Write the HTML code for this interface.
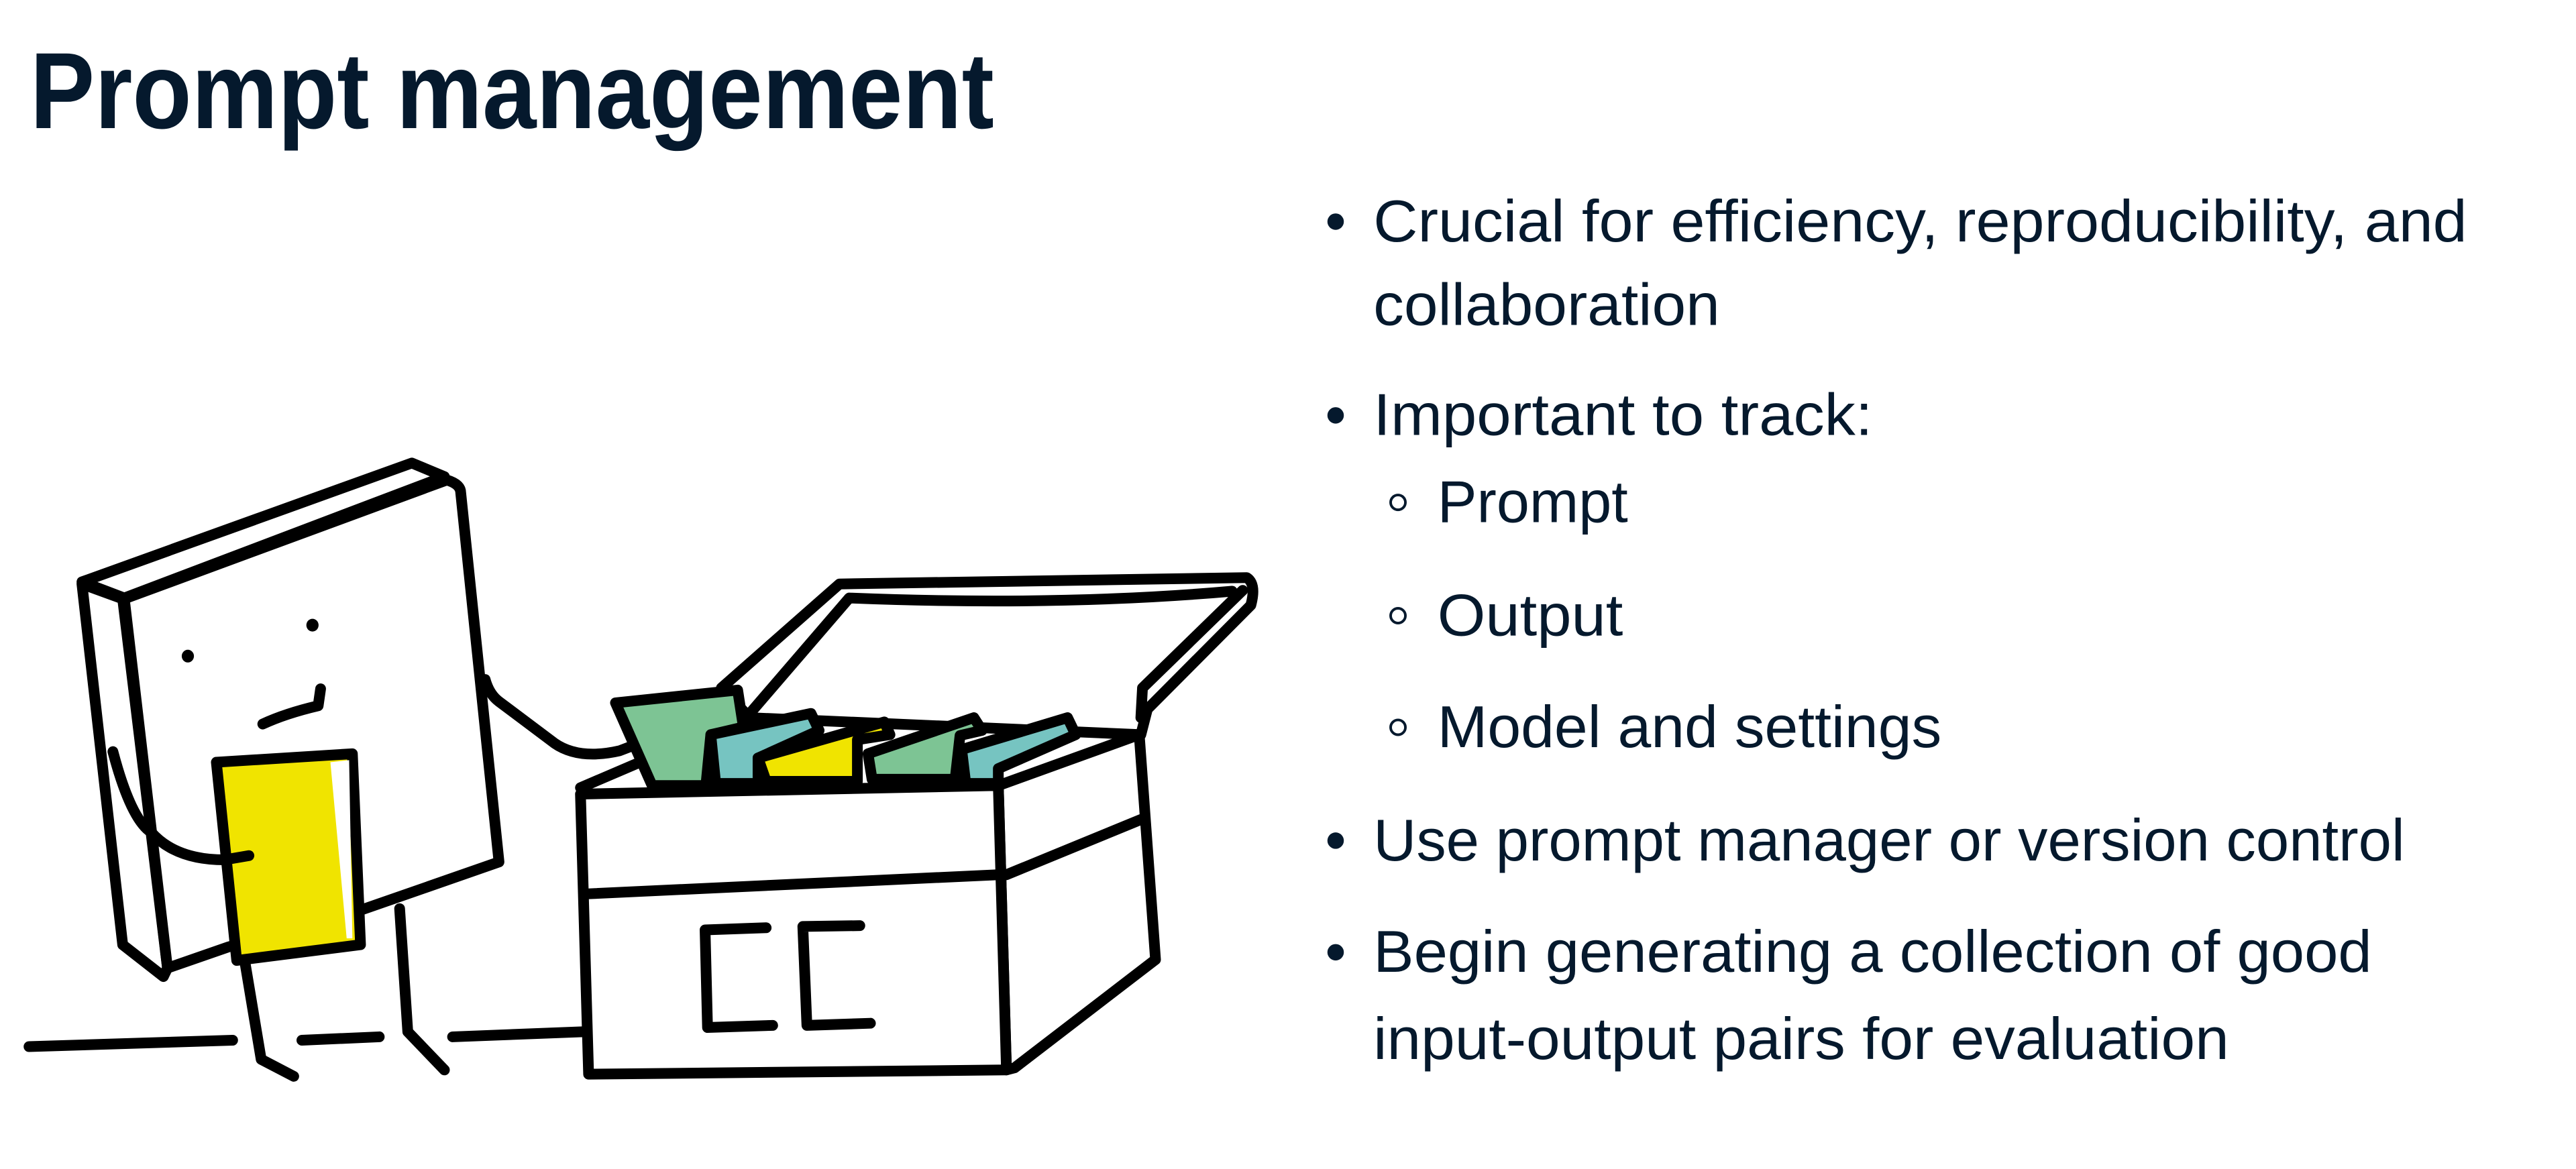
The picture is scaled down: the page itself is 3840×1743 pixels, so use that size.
<!DOCTYPE html>
<html><head><meta charset="utf-8"><style>html,body{margin:0;padding:0;background:#fff}svg{display:block}</style></head>
<body>
<svg width="3840" height="1743" viewBox="0 0 1568 712" xmlns="http://www.w3.org/2000/svg">
<rect width="1568" height="712" fill="#fff"/>
<g fill="#05192d" font-family="'Liberation Sans', sans-serif">
<text x="18" y="78" font-size="66" font-weight="bold" textLength="587" lengthAdjust="spacingAndGlyphs">Prompt management</text>
<g font-size="36">
<text x="836" y="147" textLength="666" lengthAdjust="spacingAndGlyphs">Crucial for efficiency, reproducibility, and</text>
<text x="836" y="198" textLength="211" lengthAdjust="spacingAndGlyphs">collaboration</text>
<text x="836" y="265" textLength="304" lengthAdjust="spacingAndGlyphs">Important to track:</text>
<text x="875" y="318" textLength="116" lengthAdjust="spacingAndGlyphs">Prompt</text>
<text x="875" y="387" textLength="113" lengthAdjust="spacingAndGlyphs">Output</text>
<text x="875" y="455" textLength="307" lengthAdjust="spacingAndGlyphs">Model and settings</text>
<text x="836" y="524" textLength="628" lengthAdjust="spacingAndGlyphs">Use prompt manager or version control</text>
<text x="836" y="592" textLength="608" lengthAdjust="spacingAndGlyphs">Begin generating a collection of good</text>
<text x="836" y="645" textLength="521" lengthAdjust="spacingAndGlyphs">input-output pairs for evaluation</text>
</g>
<circle cx="813" cy="135" r="5"/><circle cx="813" cy="253" r="5"/><circle cx="813" cy="512" r="5"/><circle cx="813" cy="580" r="5"/>
</g>
<g fill="none" stroke="#05192d" stroke-width="1.6">
<circle cx="851" cy="306" r="4.5"/><circle cx="851" cy="375" r="4.5"/><circle cx="851" cy="443" r="4.5"/>
</g>
<g transform="matrix(0.496,0,0,0.2585,0,266.5)" stroke="#000" stroke-linejoin="round" stroke-linecap="round">
<g stroke-width="16">
<path d="M35,1435 L285,1420 M370,1420 L465,1412 M555,1412 L715,1400" fill="none" vector-effect="non-scaling-stroke"/>
<path d="M300,1235 L320,1465 L360,1505 M490,1110 L500,1400 L545,1490" fill="none" vector-effect="non-scaling-stroke"/>
<path d="M100,345 L150,380 L205,1250 L200,1270 L150,1195 Z" fill="#fff" vector-effect="non-scaling-stroke"/>
<path d="M100,340 L505,60 L545,92 L152,378 Z" fill="#fff" vector-effect="non-scaling-stroke"/>
<path d="M152,380 L548,100 Q565,110 565,130 L612,1000 L440,1115 L280,1200 L205,1250 Z" fill="#fff" vector-effect="non-scaling-stroke"/>
<ellipse cx="230" cy="515" rx="7.5" ry="15" fill="#000" stroke="none"/>
<ellipse cx="383" cy="442" rx="7.5" ry="15" fill="#000" stroke="none"/>
<path d="M322,675 Q350,650 390,632 L393,592" fill="none" vector-effect="non-scaling-stroke"/>
<path d="M595,570 Q600,605 612,622 L680,720 Q710,760 760,738 L805,705" fill="none" vector-effect="non-scaling-stroke"/>
<path d="M265,765 L432,745 L442,1195 L290,1232 Z" fill="#f0e400" vector-effect="non-scaling-stroke"/>
<path d="M405,765 L428,760 L432,1180 L425,1180 Z" fill="#fff" stroke="none"/>
<path d="M138,740 Q160,900 185,930 Q215,995 275,995 L305,985" fill="none" vector-effect="non-scaling-stroke"/>
<path d="M885,590 L1030,345 L1530,330 Q1542,345 1535,395 L1408,640 L1400,700 L920,660 Z" fill="#fff" vector-effect="non-scaling-stroke"/>
<path d="M920,650 L1042,378 Q1300,398 1512,362 M1525,360 L1402,590 L1400,660" fill="none" vector-effect="non-scaling-stroke"/>
<path d="M712,825 L785,765" fill="none" vector-effect="non-scaling-stroke"/>
<path d="M755,625 L905,595 L912,682 L872,700 L866,820 L800,820 Z" fill="#7dc494" vector-effect="non-scaling-stroke"/>
<path d="M872,700 L995,650 L1005,690 L930,755 L930,815 L878,815 Z" fill="#76c4c1" vector-effect="non-scaling-stroke"/>
<path d="M930,755 L1085,670 L1092,700 L1052,712 L1052,810 L940,810 Z" fill="#f0e400" vector-effect="non-scaling-stroke"/>
<path d="M1065,745 L1195,660 L1205,690 L1178,702 L1172,805 L1070,805 Z" fill="#7dc494" vector-effect="non-scaling-stroke"/>
<path d="M1180,735 L1310,660 L1320,700 L1225,780 L1225,815 L1185,815 Z" fill="#76c4c1" vector-effect="non-scaling-stroke"/>
<path d="M1225,820 L1398,700 L1418,1230 L1245,1485 L1235,1490 Z" fill="#fff" vector-effect="non-scaling-stroke"/>
<path d="M712,840 L1225,820 L1235,1490 L722,1500 Z" fill="#fff" vector-effect="non-scaling-stroke"/>
<path d="M722,1075 L1225,1030 M1235,1030 L1400,900" fill="none" vector-effect="non-scaling-stroke"/>
<path d="M940,1155 L865,1160 L868,1390 L948,1385 M1055,1150 L985,1152 L990,1385 L1068,1380" fill="none" vector-effect="non-scaling-stroke"/>
</g>
</g>
</svg>
</body></html>
